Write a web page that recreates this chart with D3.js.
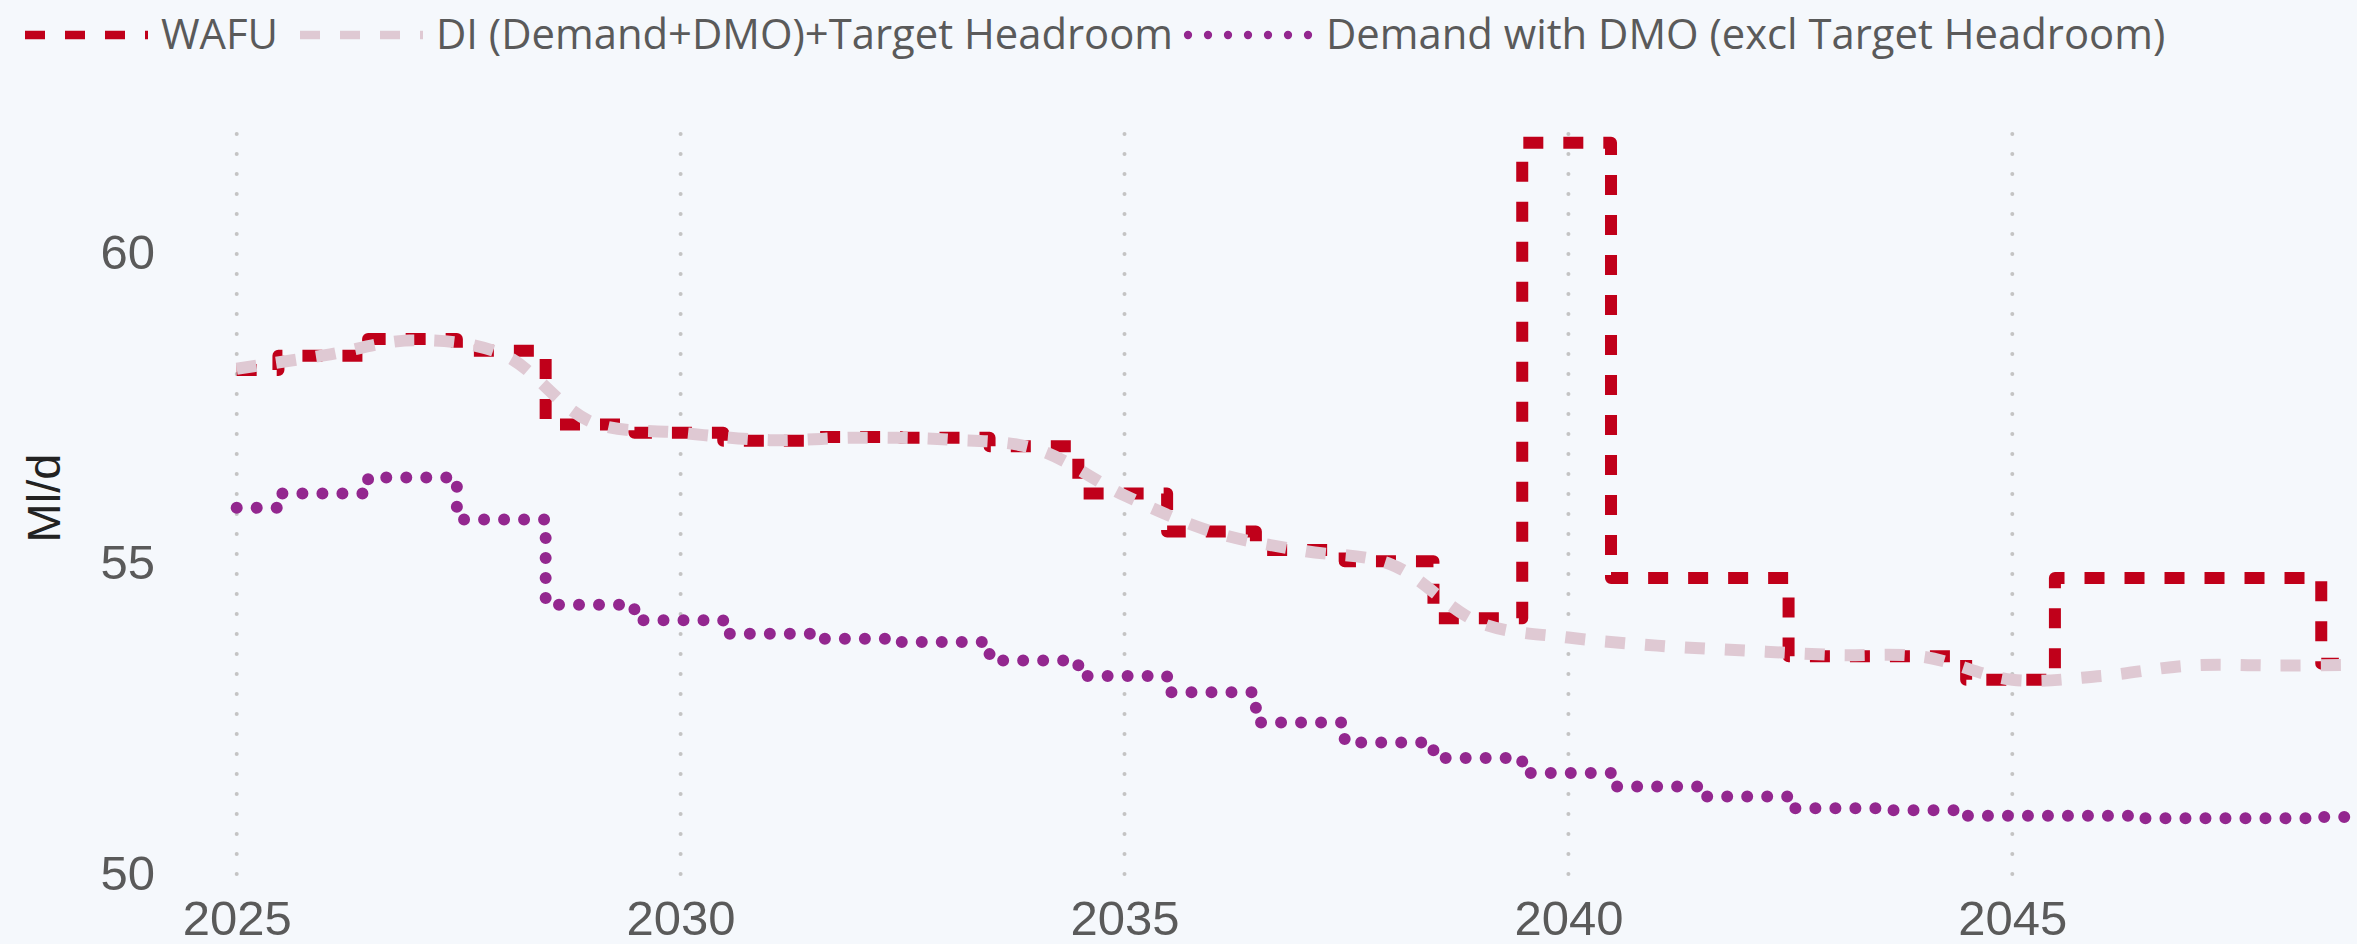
<!DOCTYPE html>
<html>
<head>
<meta charset="utf-8">
<script src="https://cdn.jsdelivr.net/npm/d3@7"></script>
<style>
  html, body { margin: 0; padding: 0; background: #f5f8fc; }
  svg { display: block; }
</style>
</head>
<body>
<svg id="chart" width="2357" height="944"></svg>
<script>
// ---------------- DATA ----------------
const seriesNames = ["WAFU", "DI (Demand+DMO)+Target Headroom", "Demand with DMO (excl Target Headroom)"];

// start dates of each (fiscal) step, decimal years
const stepDates = [2025.00, 2025.47, 2026.48, 2027.48, 2028.48, 2029.48, 2030.48, 2031.48, 2032.48,
                   2033.48, 2034.48, 2035.48, 2036.48, 2037.48, 2038.48, 2039.48, 2040.48, 2041.48,
                   2042.48, 2043.48, 2044.48, 2045.48, 2046.48, 2047.48, 2048.48];
const seriesEnd = 2049.2;

const wafuValues = [58.08, 58.31, 58.58, 58.39, 57.20, 57.07, 56.94, 57.00, 56.99,
                    56.85, 56.09, 55.48, 55.18, 55.00, 54.08, 61.74, 54.73, 54.73,
                    53.47, 53.47, 53.09, 54.73, 54.73, 54.73, 53.35];

const demandValues = [55.86, 56.09, 56.35, 55.67, 54.30, 54.05, 53.83, 53.75, 53.70,
                      53.40, 53.15, 52.89, 52.40, 52.08, 51.83, 51.59, 51.37, 51.21,
                      51.02, 50.99, 50.90, 50.90, 50.86, 50.86, 50.88];

// DI (smooth) values at each calendar year
const diYears = [2025, 2026, 2027, 2028, 2029, 2030, 2031, 2032, 2033, 2034, 2035, 2036, 2037,
                 2038, 2039, 2040, 2041, 2042, 2043, 2044, 2045, 2046, 2047, 2048, 2049];
const diValues = [58.10, 58.32, 58.56, 58.33, 57.24, 57.07, 56.95, 56.99, 56.96, 56.81, 56.06, 55.47, 55.17,
                  54.95, 54.01, 53.77, 53.64, 53.56, 53.49, 53.46, 53.09, 53.15, 53.32, 53.32, 53.33];

const xTicks = [2025, 2030, 2035, 2040, 2045];
const yTicks = [50, 55, 60];

// ---------------- LAYOUT ----------------
const W = 2357, H = 944;
const plot = { left: 200, right: 2357, top: 133, bottom: 876 };

const x = d3.scaleLinear().domain([2025, 2045]).range([236.7, 2012.3]);
const y = d3.scaleLinear().domain([50, 60]).range([871.6, 250.8]);

const colors = { wafu: "#c0001a", di: "#dfc9d3", demand: "#93278f" };

const svg = d3.select("#chart");
svg.append("rect").attr("width", W).attr("height", H).attr("fill", "#f5f8fc");

svg.append("defs").append("clipPath").attr("id", "clip")
  .append("rect").attr("x", plot.left).attr("y", 100)
  .attr("width", plot.right - plot.left).attr("height", plot.bottom - 100 + 20);

// gridlines
svg.append("g").selectAll("line").data(xTicks).join("line")
  .attr("x1", d => x(d)).attr("x2", d => x(d))
  .attr("y1", plot.top + 1).attr("y2", plot.bottom)
  .attr("stroke", "#c4c4c4").attr("stroke-width", 4)
  .attr("stroke-linecap", "round").attr("stroke-dasharray", "0,20");

// axes
const xAxis = d3.axisBottom(x).tickValues(xTicks).tickFormat(d3.format("d")).tickSize(0).tickPadding(24);
const gx = svg.append("g").attr("transform", `translate(0,${plot.bottom})`).call(xAxis);
gx.select(".domain").remove();
gx.selectAll("text").attr("font-family", "'Liberation Sans', Arial, sans-serif")
  .attr("font-size", 49).attr("fill", "#5a5a5a");

const yAxis = d3.axisLeft(y).tickValues(yTicks).tickFormat(d3.format("d")).tickSize(0).tickPadding(0);
const gy = svg.append("g").attr("transform", `translate(155,0)`).call(yAxis);
gy.select(".domain").remove();
gy.selectAll("text").attr("font-family", "'Liberation Sans', Arial, sans-serif")
  .attr("font-size", 49).attr("fill", "#5a5a5a").attr("dy", "0.36em");

svg.append("text")
  .attr("transform", "translate(43.6,498) rotate(-90)")
  .attr("text-anchor", "middle").attr("dominant-baseline", "central")
  .attr("font-family", "'Liberation Sans', Arial, sans-serif")
  .attr("font-size", 47).attr("fill", "#222")
  .text("Ml/d");

// lines
const stepPts = vals => stepDates.map((d, i) => [d, vals[i]]).concat([[seriesEnd, vals[vals.length - 1]]]);
const lineStep = d3.line().x(d => x(d[0])).y(d => y(d[1])).curve(d3.curveStepAfter);
const lineSmooth = d3.line().x(d => x(d[0])).y(d => y(d[1])).curve(d3.curveCatmullRom.alpha(0.5));

const gl = svg.append("g").attr("clip-path", "url(#clip)");

gl.append("path").datum(stepPts(wafuValues))
  .attr("d", lineStep).attr("fill", "none")
  .attr("stroke", colors.wafu).attr("stroke-width", 12)
  .attr("stroke-dasharray", "20,20").attr("stroke-linejoin", "round");

gl.append("path").datum(diYears.map((d, i) => [d, diValues[i]]))
  .attr("d", lineSmooth).attr("fill", "none")
  .attr("stroke", colors.di).attr("stroke-width", 12)
  .attr("stroke-dasharray", "20,20").attr("stroke-linejoin", "round");

gl.append("path").datum(stepPts(demandValues))
  .attr("d", lineStep).attr("fill", "none")
  .attr("stroke", colors.demand).attr("stroke-width", 12)
  .attr("stroke-dasharray", "0,20").attr("stroke-linecap", "round").attr("stroke-linejoin", "round");

// legend
const legendStarts = [25, 300, 1184];
const legendStyles = [
  { color: colors.wafu, dash: "20,20", cap: "butt", x0: 0, x1: 123 },
  { color: colors.di, dash: "20,20", cap: "butt", x0: 0, x1: 123 },
  { color: colors.demand, dash: "0,20", cap: "round", x0: 4, x1: 125 }
];
const lg = svg.append("g");
seriesNames.forEach((name, i) => {
  const s = legendStyles[i], lx = legendStarts[i];
  lg.append("line").attr("x1", lx + s.x0).attr("x2", lx + s.x1).attr("y1", 35).attr("y2", 35)
    .attr("stroke", s.color).attr("stroke-width", 8.3)
    .attr("stroke-dasharray", s.dash).attr("stroke-linecap", s.cap);
  lg.append("text").attr("x", lx + (i === 2 ? 142 : 136)).attr("y", 49)
    .attr("font-family", "'Open Sans', sans-serif").attr("font-size", 41.8)
    .attr("fill", "#5a5a5a").text(name);
});
</script>
</body>
</html>
